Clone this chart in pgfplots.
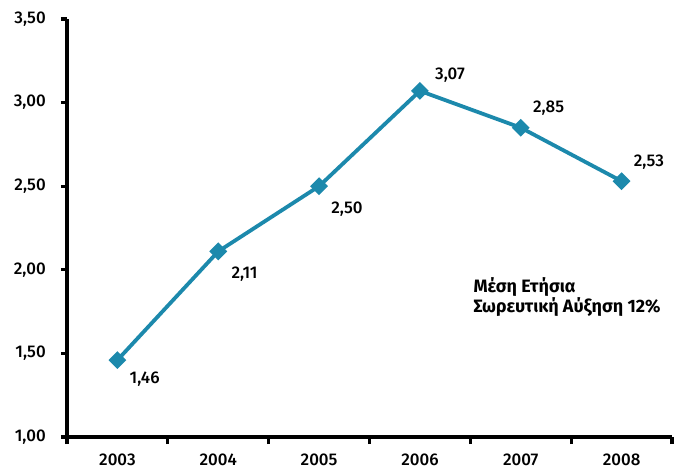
\documentclass[border=0pt]{standalone}
\usepackage{fontspec}
\setmainfont{Fira Sans}[UprightFont={* Medium}, BoldFont={* Bold}]
\usepackage{pgfplots}
\pgfplotsset{compat=1.18}
\definecolor{linecol}{RGB}{28,137,172}
\begin{document}
\begin{tikzpicture}
\fontsize{17}{20}\selectfont
\useasboundingbox (0,0) rectangle (675bp,473bp);
\begin{axis}[
	at={(67bp,36bp)}, anchor=south west,
	scale only axis,
	width=605bp, height=418bp,
	xmin=-0.5, xmax=5.5,
	ymin=1, ymax=3.5,
	axis lines=left,
	every axis/.append style={line width=3.2bp},
	axis line style={-, line width=3.2bp, black},
	every tick/.style={black, line width=3.2bp},
	xtick={0,...,5},
	xticklabels={2003,2004,2005,2006,2007,2008},
	major x tick style={draw=none},
	minor xtick={-0.5,0.5,...,5.5},
	ytick={1,1.5,...,3.5},
	tick align=outside,
	major tick length=6bp,
	minor tick length=7bp,
	x tick label style={yshift=-4bp},
	y tick label style={xshift=-8bp},
	/pgf/number format/.cd, fixed, fixed zerofill, precision=2, use comma, assume math mode=true,
]
\addplot[color=linecol, line width=3.8bp, mark=square*, mark size=4.4bp,
	mark options={solid, fill=linecol, rotate=45}] coordinates {
	(0, 1.46)
	(1, 2.11)
	(2, 2.50)
	(3, 3.07)
	(4, 2.85)
	(5, 2.53)
};
\node[anchor=north west] at (axis cs:0.05,1.43) {1,46};
\node[anchor=north west] at (axis cs:1.06,2.06) {2,11};
\node[anchor=north west] at (axis cs:2.05,2.45) {2,50};
\node[anchor=south west] at (axis cs:3.08,3.08) {3,07};
\node[anchor=south west] at (axis cs:4.05,2.88) {2,85};
\node[anchor=south west] at (axis cs:5.05,2.56) {2,53};
\node[anchor=north west, align=left, font=\fontsize{18}{21}\selectfont\bfseries] at (axis cs:3.46,2.00)
	{Μέση Ετήσια\\Σωρευτική Αύξηση 12\%};
\end{axis}
\end{tikzpicture}
\end{document}
